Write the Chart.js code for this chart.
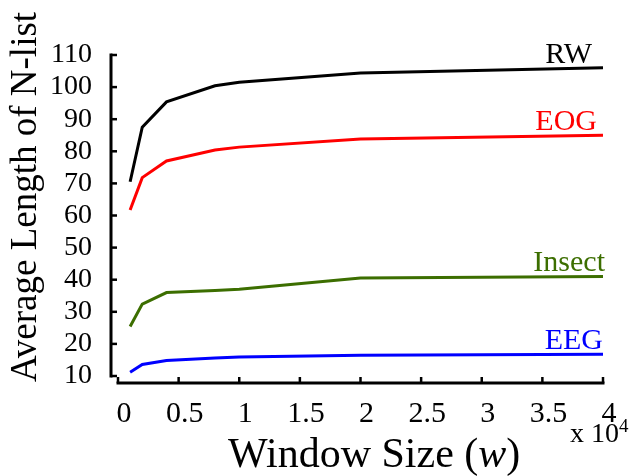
<!DOCTYPE html>
<html>
<head>
<meta charset="utf-8">
<script src="https://cdn.jsdelivr.net/npm/chart.js@4/dist/chart.umd.min.js"></script>
<style>
  body { margin: 0; background: #fff; }
  #wrap { width: 637px; height: 476px; }
</style>
</head>
<body>
<div id="wrap"><canvas id="grafico" width="637" height="476"></canvas></div>
<script>
// window size, in units of 10^4
const windowSizes = [0.1, 0.2, 0.4, 0.8, 1, 2, 4];
const rwValues = [70.5, 87.5, 95.4, 100.4, 101.5, 104.4, 106];
const eogValues = [61.7, 71.8, 77, 80.4, 81.3, 83.8, 85];
const insectValues = [25.4, 32.4, 36, 36.6, 37, 40.5, 41];
const eegValues = [11.2, 13.6, 14.8, 15.6, 15.9, 16.5, 16.8];
const seriesNames = ['RW', 'EOG', 'Insect', 'EEG'];
const xTicks = [0, 0.5, 1, 1.5, 2, 2.5, 3, 3.5, 4];
const yTicks = [10, 20, 30, 40, 50, 60, 70, 80, 90, 100, 110];

const colores = ['#000000', '#ff0000', '#3c6e00', '#0000ff'];
const labelShift = [-11, -6, 2, 0]; // horizontal nudge of the series names

const serif = '"Liberation Serif", "Times New Roman", serif';

function puntos(ys) {
  return windowSizes.map((x, i) => ({ x: x, y: ys[i] }));
}

const ejes = {
  id: 'ejes',
  afterDraw(chart) {
    const ctx = chart.ctx;
    const xs = chart.scales.x;
    const ys = chart.scales.y;
    const area = chart.chartArea;
    const axX = area.left - 7;
    const axY = area.bottom + 7;
    ctx.save();
    ctx.strokeStyle = '#000';
    ctx.lineWidth = 3;
    ctx.lineCap = 'butt';
    // y axis
    ctx.beginPath();
    ctx.moveTo(axX, ys.getPixelForValue(110) - 1.5);
    ctx.lineTo(axX, ys.getPixelForValue(10) + 1.5);
    ctx.stroke();
    // x axis
    ctx.beginPath();
    ctx.moveTo(xs.getPixelForValue(0) - 1.5, axY);
    ctx.lineTo(xs.getPixelForValue(4) + 1.5, axY);
    ctx.stroke();
    // inward ticks
    ctx.lineWidth = 2.5;
    yTicks.forEach(v => {
      const p = ys.getPixelForValue(v);
      ctx.beginPath();
      ctx.moveTo(axX, p);
      ctx.lineTo(axX + 6, p);
      ctx.stroke();
    });
    xTicks.forEach(v => {
      const p = xs.getPixelForValue(v);
      ctx.beginPath();
      ctx.moveTo(p, axY);
      ctx.lineTo(p, axY - 6);
      ctx.stroke();
    });

    // series names over the end of each line
    ctx.textAlign = 'right';
    ctx.textBaseline = 'alphabetic';
    ctx.font = '30px ' + serif;
    chart.data.datasets.forEach((ds, i) => {
      const last = ds.data[ds.data.length - 1];
      ctx.fillStyle = ds.borderColor;
      ctx.fillText(ds.label, xs.getPixelForValue(last.x) + labelShift[i], ys.getPixelForValue(last.y) - 5);
    });

    // axis titles
    ctx.fillStyle = '#000';
    ctx.textAlign = 'left';
    ctx.font = '42px ' + serif;
    let tx = 228;
    const ty = 467;
    ctx.fillText('Window Size (', tx, ty);
    tx += ctx.measureText('Window Size (').width;
    ctx.font = 'italic 42px ' + serif;
    ctx.fillText('w', tx, ty);
    tx += ctx.measureText('w').width;
    ctx.font = '42px ' + serif;
    ctx.fillText(')', tx, ty);

    ctx.save();
    ctx.translate(36, 197);
    ctx.rotate(-Math.PI / 2);
    ctx.textAlign = 'center';
    ctx.font = '37px ' + serif;
    ctx.fillText('Average Length of N-list', 0, 0);
    ctx.restore();

    // x 10^4 multiplier
    ctx.font = '28px ' + serif;
    ctx.fillText('x 10', 570, 442);
    const w = ctx.measureText('x 10').width;
    ctx.font = '19px ' + serif;
    ctx.fillText('4', 570 + w, 432);
    ctx.restore();
  }
};

new Chart(document.getElementById('grafico').getContext('2d'), {
  type: 'line',
  data: {
    datasets: [
      { label: seriesNames[0], data: puntos(rwValues), borderColor: colores[0] },
      { label: seriesNames[1], data: puntos(eogValues), borderColor: colores[1] },
      { label: seriesNames[2], data: puntos(insectValues), borderColor: colores[2] },
      { label: seriesNames[3], data: puntos(eegValues), borderColor: colores[3] }
    ]
  },
  options: {
    responsive: false,
    animation: false,
    layout: { padding: { left: 0, top: 55, right: 34, bottom: 0 } },
    elements: {
      line: { borderWidth: 3, tension: 0, fill: false },
      point: { radius: 0 }
    },
    scales: {
      x: {
        type: 'linear',
        min: 0,
        max: 4,
        afterFit(scale) { scale.height = 100; },
        afterBuildTicks(scale) { scale.ticks = xTicks.map(v => ({ value: v })); },
        grid: { display: false, drawTicks: false },
        border: { display: false },
        ticks: {
          autoSkip: false,
          maxRotation: 0,
          padding: 20,
          labelOffset: 6,
          color: '#000',
          font: { family: serif, size: 30 },
          callback: v => String(v)
        }
      },
      y: {
        min: 10,
        max: 110,
        afterFit(scale) { scale.width = 118; },
        afterBuildTicks(scale) { scale.ticks = yTicks.map(v => ({ value: v })); },
        grid: { display: false, drawTicks: false },
        border: { display: false },
        ticks: {
          autoSkip: false,
          padding: 26,
          color: '#000',
          font: { family: serif, size: 28 },
          callback: v => String(v)
        }
      }
    },
    plugins: {
      legend: { display: false },
      tooltip: { enabled: false }
    }
  },
  plugins: [ejes]
});
</script>
</body>
</html>
